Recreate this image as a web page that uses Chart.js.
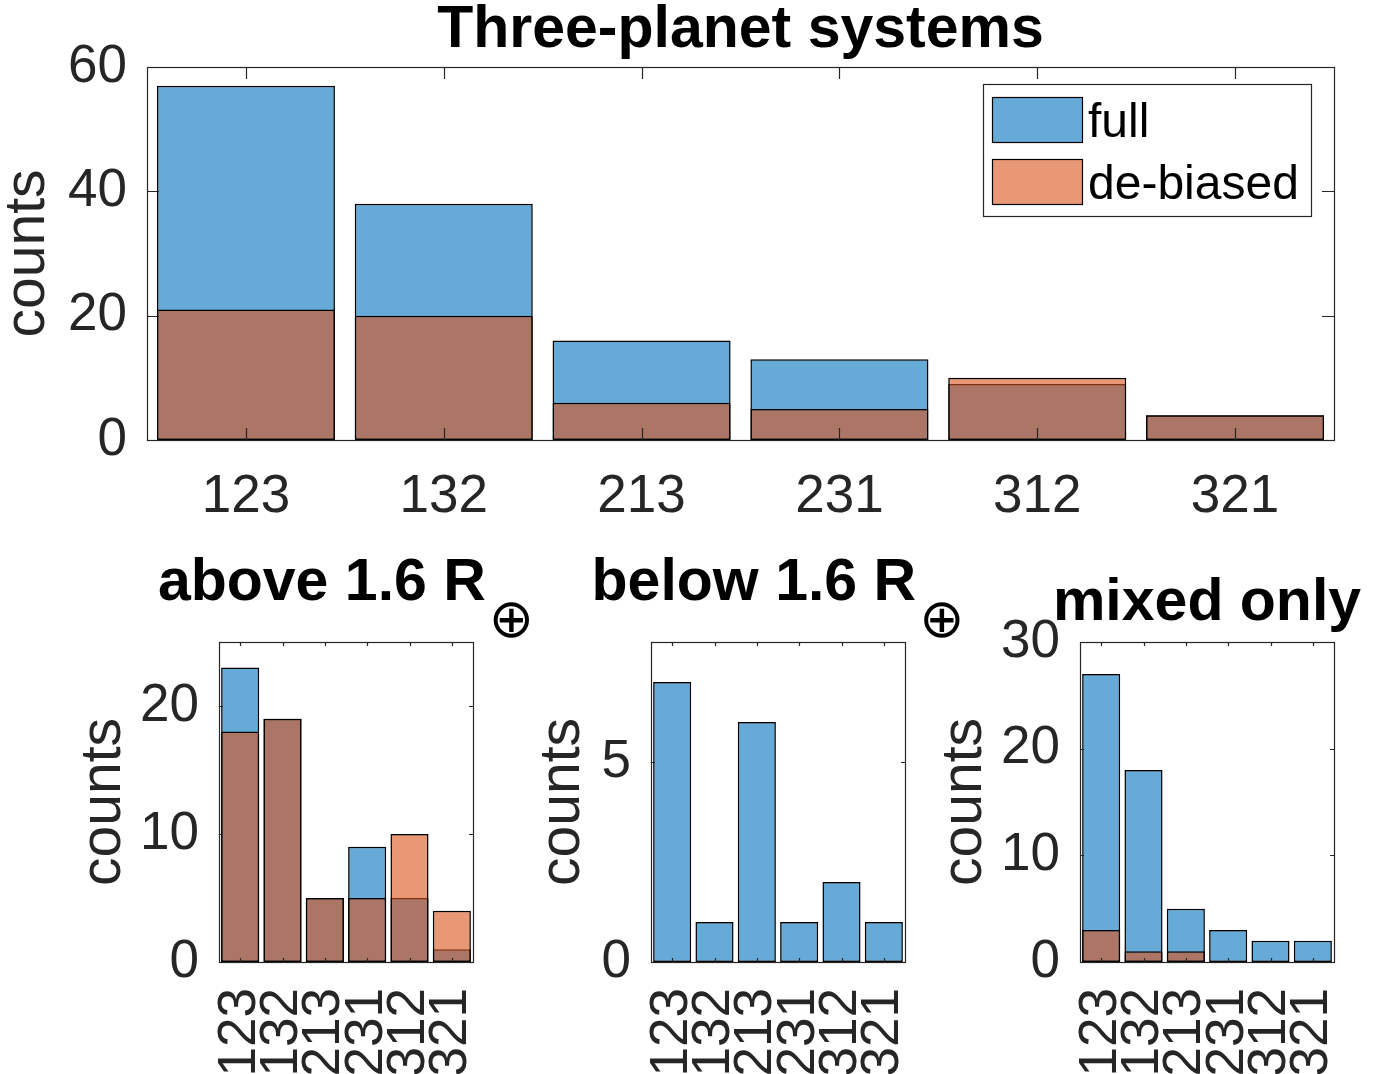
<!DOCTYPE html>
<html>
<head>
<meta charset="utf-8">
<script src="https://cdn.jsdelivr.net/npm/chart.js@4.4.0/dist/chart.umd.min.js"></script>
<style>
body { margin: 0; background: #fff; width: 1390px; height: 1074px; position: relative; overflow: hidden; }
canvas { position: absolute; }
</style>
</head>
<body>
<script>
// permutation order of the three planets
var orders = ['123', '132', '213', '231', '312', '321'];

// all three-planet systems
var allFull = [57, 38, 16, 13, 9, 4];
var allDebiased = [21, 20, 6, 5, 10, 4];
var allTicks = [0, 20, 40, 60];

// above 1.6 R_earth
var aboveFull = [23, 19, 5, 9, 5, 1];
var aboveDebiased = [18, 19, 5, 5, 10, 4];
var aboveTicks = [0, 10, 20];

// below 1.6 R_earth
var belowFull = [7, 1, 6, 1, 2, 1];
var belowDebiased = [0, 0, 0, 0, 0, 0];
var belowTicks = [0, 5];

// mixed only
var mixedFull = [27, 18, 5, 3, 2, 2];
var mixedDebiased = [3, 1, 1, 0, 0, 0];
var mixedTicks = [0, 10, 20, 30];

var seriesNames = ['full', 'de-biased'];

var FONT = '"Liberation Sans", Arial, Helvetica, sans-serif';
var AXIS = '#262626';
Chart.defaults.font.family = FONT;

// box + inward ticks, matlab style
var boxPlugin = {
  id: 'mbox',
  afterDatasetsDraw: function(chart, args, o) {
    var ctx = chart.ctx, a = chart.chartArea, xs = chart.scales.x, ys = chart.scales.y;
    var L = o.tickLen;
    ctx.save();
    ctx.strokeStyle = AXIS;
    ctx.lineWidth = 1.2;
    ctx.beginPath();
    xs.ticks.forEach(function(t, i) {
      var px = Math.round(xs.getPixelForTick(i)) + 0.5;
      ctx.moveTo(px, a.bottom); ctx.lineTo(px, a.bottom - L);
      ctx.moveTo(px, a.top); ctx.lineTo(px, a.top + L);
    });
    ys.ticks.forEach(function(t) {
      var py = Math.round(ys.getPixelForValue(t.value)) + 0.5;
      ctx.moveTo(a.left, py); ctx.lineTo(a.left + L, py);
      ctx.moveTo(a.right, py); ctx.lineTo(a.right - L, py);
    });
    ctx.stroke();
    ctx.strokeRect(Math.round(a.left) + 0.5, Math.round(a.top) + 0.5,
      Math.round(a.right - a.left), Math.round(a.bottom - a.top));
    ctx.restore();
  }
};

// title with optional subscript
var titlePlugin = {
  id: 'mtitle',
  afterDraw: function(chart, args, o) {
    var ctx = chart.ctx, a = chart.chartArea;
    var subFont = '54px "DejaVu Sans", sans-serif';
    ctx.save();
    ctx.fillStyle = '#000';
    ctx.textBaseline = 'alphabetic';
    ctx.textAlign = 'left';
    ctx.font = 'bold 59px ' + FONT;
    var w1 = ctx.measureText(o.text).width;
    var w2 = 0;
    if (o.sub) {
      ctx.font = subFont;
      w2 = ctx.measureText(o.sub).width + 3;
    }
    var x0 = (a.left + a.right) / 2 - (w1 + w2) / 2;
    var yb = a.top - o.gap;
    ctx.font = 'bold 59px ' + FONT;
    ctx.fillText(o.text, x0, yb);
    if (o.sub) {
      ctx.font = subFont;
      ctx.fillText(o.sub, x0 + w1 + 3, yb + 37);
    }
    ctx.restore();
  }
};

// legend inside the axes, top right
var legendPlugin = {
  id: 'mlegend',
  afterDraw: function(chart, args, o) {
    if (!o.show) return;
    var ctx = chart.ctx, a = chart.chartArea;
    var bw = 328, bh = 132;
    var bx = a.right - 23 - bw, by = a.top + 17;
    ctx.save();
    ctx.fillStyle = '#fff';
    ctx.fillRect(bx, by, bw, bh);
    ctx.strokeStyle = AXIS;
    ctx.lineWidth = 1.2;
    ctx.strokeRect(bx + 0.5, by + 0.5, bw, bh);
    ctx.font = '48px ' + FONT;
    ctx.textBaseline = 'middle';
    ctx.textAlign = 'left';
    chart.data.datasets.forEach(function(d, i) {
      var sy = by + 13 + i * 62;
      ctx.fillStyle = d.backgroundColor;
      ctx.fillRect(bx + 9, sy, 90, 45);
      ctx.strokeStyle = '#000';
      ctx.strokeRect(bx + 9.5, sy + 0.5, 90, 45);
      ctx.fillStyle = '#000';
      ctx.fillText(d.label, bx + 105, sy + 27);
    });
    ctx.restore();
  }
};

var panels = [
  { full: allFull, deb: allDebiased, ticks: allTicks, ymax: 60, title: 'Three-planet systems', sub: '', gap: 20,
    canvas: [0, 0, 1390, 540], area: [147, 67, 1334, 440], rot: 0, tickLen: 12, xPad: 31, legend: true },
  { full: aboveFull, deb: aboveDebiased, ticks: aboveTicks, ymax: 25, title: 'above 1.6 R', sub: '\u2295', gap: 42,
    canvas: [76, 540, 469, 534], area: [219, 642, 473, 962], rot: 90, tickLen: 4, xPad: 26, legend: false },
  { full: belowFull, deb: belowDebiased, ticks: belowTicks, ymax: 8, title: 'below 1.6 R', sub: '\u2295', gap: 42,
    canvas: [535, 540, 440, 534], area: [651, 642, 905, 962], rot: 90, tickLen: 4, xPad: 26, legend: false },
  { full: mixedFull, deb: mixedDebiased, ticks: mixedTicks, ymax: 30, title: 'mixed only', sub: '', gap: 22,
    canvas: [937, 540, 453, 534], area: [1080, 642, 1334, 962], rot: 90, tickLen: 4, xPad: 26, legend: false }
];

panels.forEach(function(p) {
  var cv = document.createElement('canvas');
  cv.width = p.canvas[2];
  cv.height = p.canvas[3];
  cv.style.left = p.canvas[0] + 'px';
  cv.style.top = p.canvas[1] + 'px';
  document.body.appendChild(cv);

  var yW = p.area[0] - p.canvas[0];
  var xH = p.canvas[1] + p.canvas[3] - p.area[3];
  var yTicks = p.ticks;

  new Chart(cv.getContext('2d'), {
    type: 'bar',
    data: {
      labels: orders,
      datasets: [
        { label: seriesNames[0], data: p.full, order: 2, backgroundColor: 'rgba(0,114,189,0.6)' },
        { label: seriesNames[1], data: p.deb, order: 1, backgroundColor: 'rgba(217,83,25,0.6)' }
      ]
    },
    options: {
      responsive: false,
      animation: false,
      devicePixelRatio: 1,
      layout: { padding: { left: 0, top: p.area[1] - p.canvas[1], right: p.canvas[0] + p.canvas[2] - p.area[2], bottom: 0 } },
      datasets: {
        bar: { grouped: false, categoryPercentage: 0.9, barPercentage: 1, borderColor: '#000', borderWidth: 1.5, borderSkipped: false }
      },
      scales: {
        x: {
          grid: { display: false, drawTicks: false },
          border: { display: false },
          ticks: { color: AXIS, font: { size: 53, lineHeight: 1 }, padding: p.xPad, autoSkip: false,
                   minRotation: p.rot, maxRotation: p.rot },
          afterFit: function(s) { s.height = xH; s.paddingLeft = 0; s.paddingRight = 0; }
        },
        y: {
          min: 0, max: p.ymax,
          grid: { display: false, drawTicks: false },
          border: { display: false },
          ticks: { color: AXIS, font: { size: 53, lineHeight: 1 }, padding: 20 },
          afterBuildTicks: function(s) { s.ticks = yTicks.map(function(v) { return { value: v }; }); },
          title: { display: true, text: 'counts', color: AXIS, font: { size: 57, lineHeight: 1 }, padding: 0 },
          afterFit: function(s) { s.width = yW; }
        }
      },
      plugins: {
        legend: { display: false },
        tooltip: { enabled: false },
        mbox: { tickLen: p.tickLen },
        mtitle: { text: p.title, sub: p.sub, gap: p.gap },
        mlegend: { show: p.legend }
      }
    },
    plugins: [boxPlugin, titlePlugin, legendPlugin]
  });
});
</script>
</body>
</html>
